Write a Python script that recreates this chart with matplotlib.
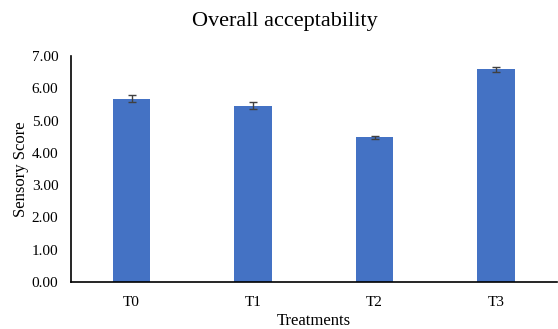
import matplotlib
matplotlib.use('Agg')
import matplotlib.pyplot as plt

treatments = ["T0", "T1", "T2", "T3"]
scores = [5.68, 5.46, 4.48, 6.58]
errors = [0.10, 0.10, 0.05, 0.08]

plt.rcParams['font.family'] = ['Liberation Serif', 'DejaVu Serif']

fig = plt.figure(figsize=(5.58, 3.29), dpi=100)
ax = fig.add_axes([0.127, 0.143, 0.871, 0.687])

ax.bar(treatments, scores, width=0.31, color="#4472C4",
       yerr=errors, capsize=3, error_kw=dict(ecolor="#404040", elinewidth=1, capthick=1))

ax.set_xlim(-0.5, 3.5)
ax.set_ylim(0, 7)
ax.set_yticks(range(0, 8))
ax.set_yticklabels([f"{v:.2f}" for v in range(0, 8)])
ax.tick_params(axis='both', length=0, labelsize=11)
ax.tick_params(axis='x', pad=10)
ax.tick_params(axis='y', pad=9)

for side in ["top", "right"]:
    ax.spines[side].set_visible(False)
ax.spines["left"].set_linewidth(1.2)
ax.spines["bottom"].set_linewidth(1.2)

ax.set_ylabel("Sensory Score", fontsize=12, labelpad=2)
ax.set_xlabel("Treatments", fontsize=12, labelpad=3)
fig.suptitle("Overall acceptability", fontsize=16, x=0.511, y=0.965)

fig.savefig("out.png", dpi=100)
